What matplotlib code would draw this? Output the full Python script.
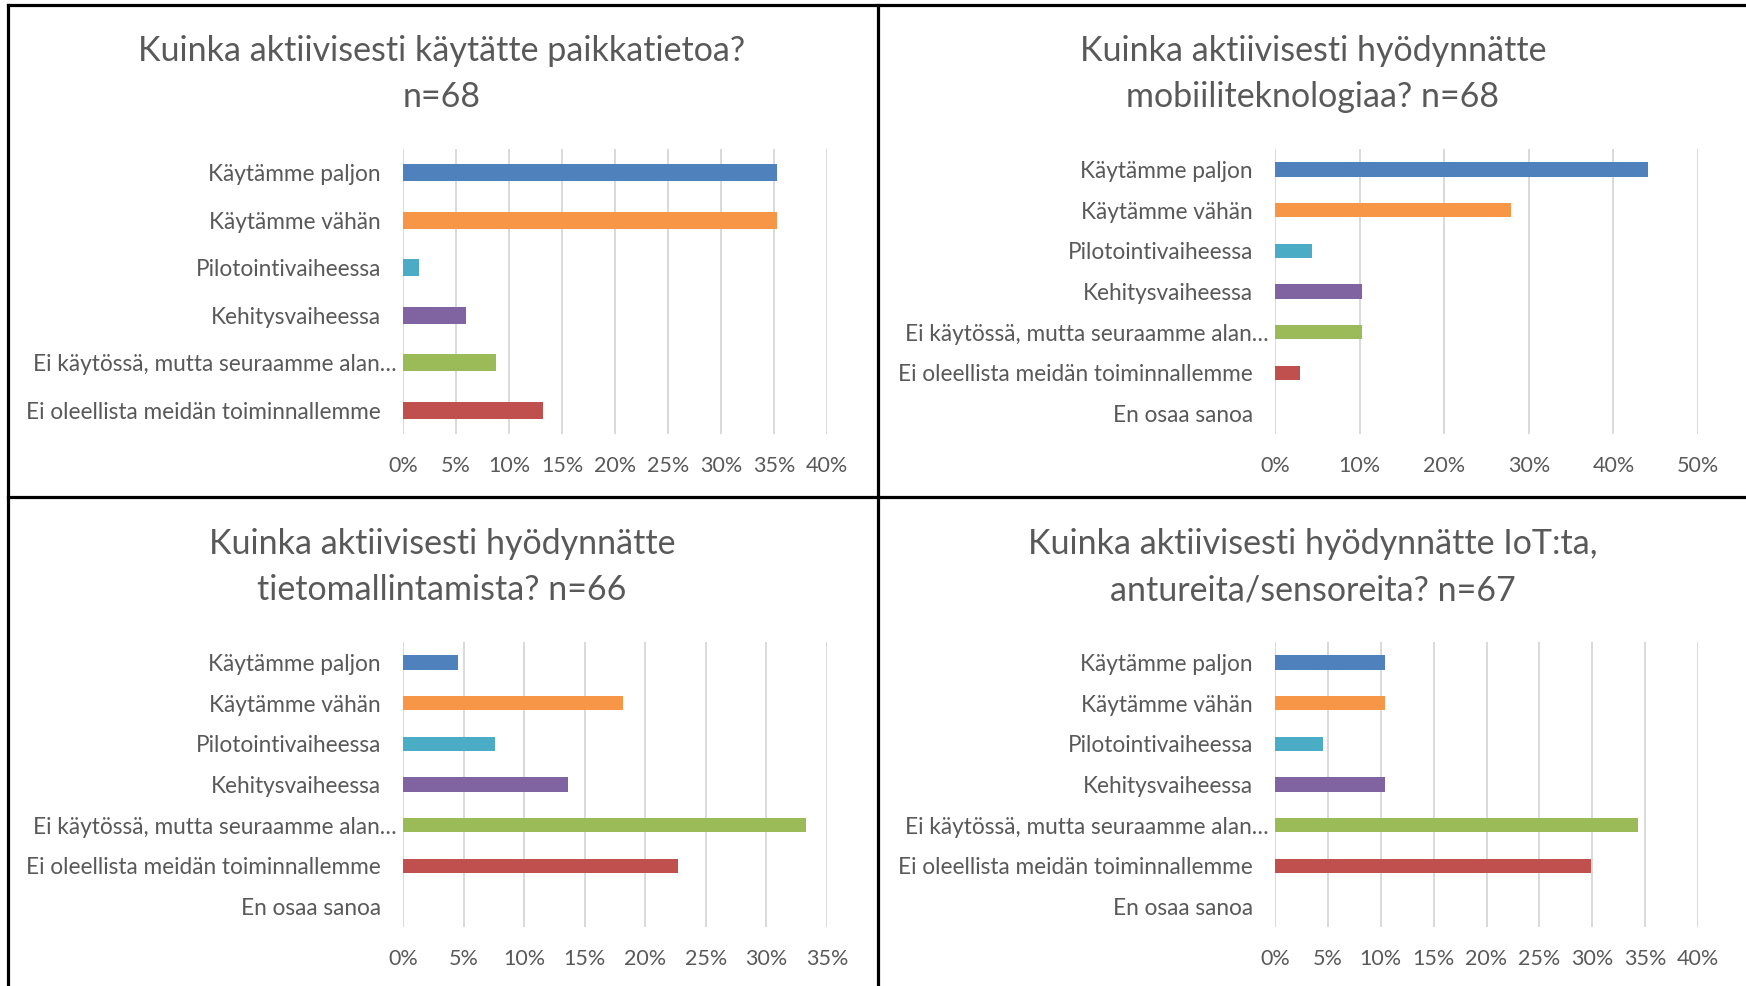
import matplotlib
matplotlib.use("Agg")
import matplotlib.pyplot as plt
from matplotlib.lines import Line2D
from matplotlib.ticker import FuncFormatter, MultipleLocator
from matplotlib.transforms import ScaledTranslation

plt.rcParams['font.family'] = ['Lato', 'DejaVu Sans']

W, H = 1746, 986

categories = [
    "Käytämme paljon",
    "Käytämme vähän",
    "Pilotointivaiheessa",
    "Kehitysvaiheessa",
    "Ei käytössä, mutta seuraamme alan…",
    "Ei oleellista meidän toiminnallemme",
    "En osaa sanoa",
]

# percentages
paikkatieto = [35.3, 35.3, 1.5, 5.9, 8.8, 13.2]
mobiili = [44.1, 27.9, 4.4, 10.3, 10.3, 2.9, 0.0]
tietomalli = [4.5, 18.2, 7.6, 13.6, 33.3, 22.7, 0.0]
iot = [10.4, 10.4, 4.5, 10.4, 34.3, 29.9, 0.0]

titles = [
    "Kuinka aktiivisesti käytätte paikkatietoa?\nn=68",
    "Kuinka aktiivisesti hyödynnätte\nmobiiliteknologiaa? n=68",
    "Kuinka aktiivisesti hyödynnätte\ntietomallintamista? n=66",
    "Kuinka aktiivisesti hyödynnätte IoT:ta,\nantureita/sensoreita? n=67",
]

colors = ["#4F81BD", "#F79646", "#4BACC6", "#8064A2", "#9BBB59", "#C0504D", "#4BACC6"]
text_col = "#595959"
grid_col = "#D9D9D9"

# (values, xmax, step, axes box in pixels: left, top, right, bottom, title centre x, title centre y)
panels = [
    (paikkatieto, 40, 5, (403, 149, 827, 434), 442, 74),
    (mobiili, 50, 10, (1275, 149, 1698, 434), 1313, 74),
    (tietomalli, 35, 5, (403, 642, 827, 927), 442, 567),
    (iot, 40, 5, (1275, 642, 1698, 927), 1313, 567),
]

fig = plt.figure(figsize=(W / 100, H / 100), dpi=100)
fig.patch.set_facecolor("white")

for (vals, xmax, step, box, tx, ty), title in zip(panels, titles):
    l, t, r, b = box
    ax = fig.add_axes([l / W, 1 - b / H, (r - l) / W, (b - t) / H])
    n = len(vals)
    cats = categories[:n]
    ypos = list(range(n))
    ax.barh(ypos, vals, height=0.357, color=colors[:n], zorder=3)
    ax.set_ylim(n - 0.5, -0.5)
    ax.set_xlim(0, xmax)
    ax.set_yticks(ypos)
    ax.set_yticklabels(cats)
    ax.xaxis.set_major_locator(MultipleLocator(step))
    ax.xaxis.set_major_formatter(FuncFormatter(lambda x, p: f"{x:.0f}%"))
    ax.grid(axis="x", color=grid_col, linewidth=1.4, zorder=0)
    for s in ax.spines.values():
        s.set_visible(False)
    ax.tick_params(axis="y", length=0, pad=16, labelsize=16.3, labelcolor=text_col)
    ax.tick_params(axis="x", length=0, pad=16, labelsize=15.5, labelcolor=text_col)
    # the truncated label sits a bit further right, like in the original
    for lab in ax.get_yticklabels():
        if lab.get_text().endswith("…"):
            lab.set_transform(lab.get_transform() + ScaledTranslation(0.16, 0, fig.dpi_scale_trans))
    fig.text(tx / W, 1 - ty / H, title, ha="center", va="center", fontsize=24.5,
             color=text_col, linespacing=1.55)

# panel frames
frame_kw = dict(color="black", linewidth=2.3, transform=fig.transFigure)
fig.add_artist(Line2D([8 / W, 8 / W], [0, 1 - 4.5 / H], **frame_kw))
fig.add_artist(Line2D([877.5 / W, 877.5 / W], [0, 1 - 4.5 / H], **frame_kw))
fig.add_artist(Line2D([8 / W, 1], [1 - 4.5 / H, 1 - 4.5 / H], **frame_kw))
fig.add_artist(Line2D([8 / W, 1], [1 - 497 / H, 1 - 497 / H], **frame_kw))

fig.savefig("out.png", dpi=100, facecolor="white")
